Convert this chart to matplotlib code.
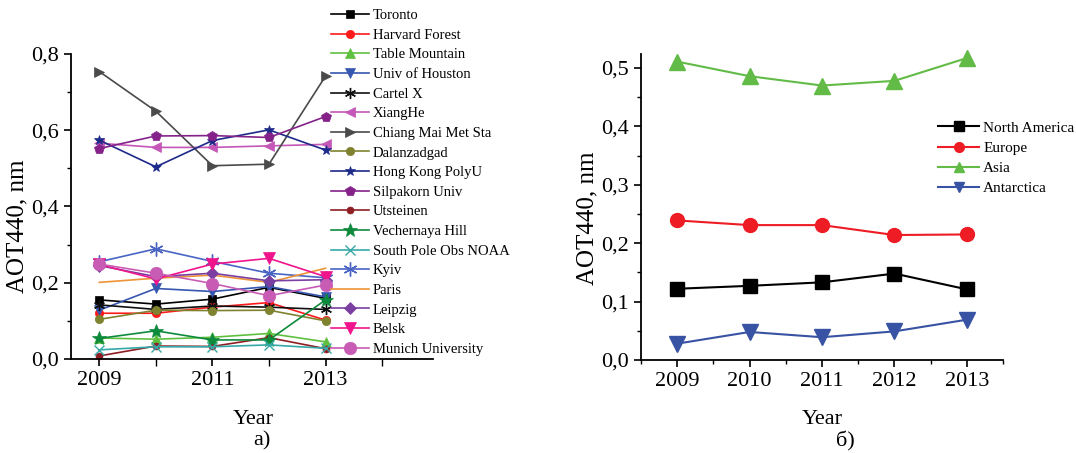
import matplotlib
matplotlib.use("Agg")
import matplotlib.pyplot as plt
from matplotlib.ticker import FixedLocator, MultipleLocator, FuncFormatter

plt.rcParams['font.family'] = ['Liberation Serif', 'DejaVu Serif']

years = [2009, 2010, 2011, 2012, 2013]

# ---- panel a: stations ----
toronto      = [0.155, 0.144, 0.157, 0.188, 0.159]
harvard      = [0.120, 0.120, 0.136, 0.148, 0.102]
table_mtn    = [0.055, 0.052, 0.057, 0.067, 0.045]
houston      = [0.128, 0.185, 0.177, 0.190, 0.163]
cartel       = [0.142, 0.130, 0.139, 0.136, 0.130]
xianghe      = [0.566, 0.555, 0.555, 0.559, 0.563]
chiang_mai   = [0.754, 0.650, 0.507, 0.511, 0.742]
dalanzadgad  = [0.104, 0.128, 0.127, 0.128, 0.100]
hong_kong    = [0.574, 0.504, 0.573, 0.601, 0.548]
silpakorn    = [0.552, 0.585, 0.586, 0.581, 0.636]
utsteinen    = [0.008, 0.034, 0.033, 0.056, 0.027]
vechernaya   = [0.054, 0.074, 0.050, 0.050, 0.155]
south_pole   = [0.024, 0.032, 0.032, 0.037, 0.028]
kyiv         = [0.255, 0.289, 0.256, 0.225, 0.213]
paris        = [0.201, 0.212, 0.220, 0.201, 0.238]
leipzig      = [0.245, 0.216, 0.225, 0.205, 0.208]
belsk        = [0.248, 0.210, 0.249, 0.264, 0.216]
munich       = [0.249, 0.225, 0.198, 0.166, 0.194]

stations = [
    ("Toronto", toronto, "#000000", "s", 6),
    ("Harvard Forest", harvard, "#ff1a1a", "o", 6),
    ("Table Mountain", table_mtn, "#5fc040", "^", 7),
    ("Univ of Houston", houston, "#3656b0", "v", 7),
    ("Cartel X", cartel, "#101010", (6, 2, 0), 8),
    ("XiangHe", xianghe, "#c457b8", "<", 7),
    ("Chiang Mai Met Sta", chiang_mai, "#4a4a4a", ">", 7),
    ("Dalanzadgad", dalanzadgad, "#7f8330", "o", 6),
    ("Hong Kong PolyU", hong_kong, "#1e2a8a", "*", 7),
    ("Silpakorn Univ", silpakorn, "#84228a", "p", 7),
    ("Utsteinen", utsteinen, "#8e1e24", "o", 5),
    ("Vechernaya Hill", vechernaya, "#0e8a3c", "*", 10),
    ("South Pole Obs NOAA", south_pole, "#36a8a8", "x", 7),
    ("Kyiv", kyiv, "#4a64c4", (6, 2, 0), 10),
    ("Paris", paris, "#ee9438", None, 6),
    ("Leipzig", leipzig, "#7a3fa0", "D", 6),
    ("Belsk", belsk, "#f0148c", "v", 8),
    ("Munich University", munich, "#c85cb4", "o", 9),
]

# ---- panel b: regions ----
north_america = [0.122, 0.127, 0.133, 0.148, 0.121]
europe        = [0.239, 0.231, 0.231, 0.214, 0.215]
asia          = [0.511, 0.486, 0.470, 0.478, 0.517]
antarctica    = [0.028, 0.048, 0.039, 0.049, 0.069]

regions = [
    ("North America", north_america, "#000000", "s", 10),
    ("Europe", europe, "#ee1c24", "o", 10),
    ("Asia", asia, "#62bb46", "^", 11),
    ("Antarctica", antarctica, "#3953a4", "v", 11),
]

W, H = 1076, 453
fig = plt.figure(figsize=(W / 100, H / 100), dpi=100)

def px_axes(x0, x1, ytop, ybot):
    return fig.add_axes([x0 / W, 1 - ybot / H, (x1 - x0) / W, (ybot - ytop) / H])

comma = FuncFormatter(lambda v, p: f"{v:.1f}".replace(".", ","))

def style(ax):
    for s in ("top", "right"):
        ax.spines[s].set_visible(False)
    for s in ("left", "bottom"):
        ax.spines[s].set_linewidth(1.3)
    ax.tick_params(which="major", direction="out", length=5, width=1.2, labelsize=16)
    ax.tick_params(which="minor", direction="out", length=3, width=1.0)
    ax.yaxis.set_major_formatter(comma)

# panel a
axa = px_axes(71, 433, 54, 359)
handles = []
for name, vals, col, mk, ms in stations:
    h, = axa.plot(years, vals, color=col, marker=mk, markersize=ms, lw=1.2,
                  markeredgewidth=1.0 if mk in ("x", (6, 2, 0)) else 0.5,
                  label=name, clip_on=False)
    handles.append(h)
axa.set_xlim(2008.5, 2014.9)
axa.set_ylim(0, 0.8)
style(axa)
axa.xaxis.set_major_locator(FixedLocator([2009, 2011, 2013]))
axa.xaxis.set_minor_locator(FixedLocator([2010, 2012, 2014]))
axa.tick_params(axis="x", which="minor", length=5)
axa.yaxis.set_major_locator(MultipleLocator(0.2))
axa.yaxis.set_minor_locator(MultipleLocator(0.1))
axa.set_ylabel("AOT440, nm", fontsize=18)
axa.yaxis.set_label_coords(-0.118, 0.435)
fig.text(253 / W, 1 - 420 / H, "Year", fontsize=16, ha="center", va="center")
fig.text(262 / W, 1 - 441 / H, "а)", fontsize=16, ha="center", va="center")

fig.legend(handles=handles, loc="upper left", bbox_to_anchor=(331 / W, 1 - 9 / H),
           frameon=False, fontsize=10.5, labelspacing=0.44, handlelength=2.6,
           handletextpad=0.25, borderpad=0, borderaxespad=0)

# panel b
axb = px_axes(641, 1003, 54, 360)
hb = []
for name, vals, col, mk, ms in regions:
    h, = axb.plot(years, vals, color=col, marker=mk, markersize=ms, lw=1.5,
                  label=name, clip_on=False)
    hb.append(h)
axb.set_xlim(2008.5, 2013.5)
axb.set_ylim(0, 0.524)
style(axb)
axb.xaxis.set_major_locator(FixedLocator(years))
axb.xaxis.set_minor_locator(MultipleLocator(0.5))
axb.yaxis.set_major_locator(MultipleLocator(0.1))
axb.yaxis.set_minor_locator(MultipleLocator(0.05))
axb.set_ylabel("AOT440, nm", fontsize=18)
axb.yaxis.set_label_coords(-0.118, 0.462)
fig.text(822 / W, 1 - 420 / H, "Year", fontsize=16, ha="center", va="center")
fig.text(845 / W, 1 - 441 / H, "б)", fontsize=16, ha="center", va="center")

fig.legend(handles=hb, loc="upper left", bbox_to_anchor=(938 / W, 1 - 121 / H),
           frameon=False, fontsize=11, labelspacing=0.43, handlelength=2.7,
           handletextpad=0.25, borderpad=0, borderaxespad=0, markerscale=0.7)

fig.savefig("out.png", dpi=100)
